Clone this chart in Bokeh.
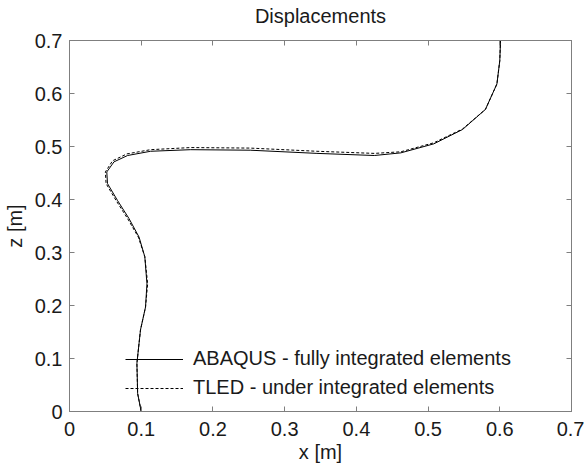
from bokeh.plotting import figure
from bokeh.models import Range1d, LinearAxis, FixedTicker, Legend, LegendItem, CustomJSTickFormatter
from bokeh.embed import file_html
from bokeh.resources import INLINE

abaqus_x = [0.100, 0.095, 0.094, 0.099, 0.106, 0.108, 0.105, 0.097, 0.083, 0.067, 0.053, 0.052,
            0.062, 0.081, 0.113, 0.169, 0.252, 0.345, 0.425, 0.462, 0.508, 0.548, 0.580, 0.596, 0.600, 0.601]
abaqus_z = [0.000, 0.034, 0.091, 0.154, 0.197, 0.241, 0.292, 0.329, 0.364, 0.398, 0.430, 0.452,
            0.471, 0.483, 0.491, 0.494, 0.493, 0.487, 0.483, 0.488, 0.505, 0.532, 0.570, 0.618, 0.662, 0.700]
tled_x = [0.100, 0.095, 0.094, 0.099, 0.106, 0.109, 0.105, 0.096, 0.081, 0.065, 0.051, 0.050,
          0.060, 0.080, 0.113, 0.169, 0.252, 0.345, 0.425, 0.462, 0.508, 0.548, 0.580, 0.596, 0.600, 0.601]
tled_z = [0.000, 0.034, 0.091, 0.154, 0.197, 0.241, 0.292, 0.329, 0.364, 0.398, 0.430, 0.452,
          0.473, 0.486, 0.494, 0.498, 0.497, 0.491, 0.487, 0.490, 0.507, 0.533, 0.570, 0.618, 0.662, 0.700]
tick_values = [0, 0.1, 0.2, 0.3, 0.4, 0.5, 0.6, 0.7]
tick_labels = ["0", "0.1", "0.2", "0.3", "0.4", "0.5", "0.6", "0.7"]
series_names = ["ABAQUS - fully integrated elements", "TLED - under integrated elements"]
title_text = "Displacements"

FONT = "Liberation Sans"
FS = "20px"
FRAME = "#7f7f7f"
TXT = "#1a1a1a"

p = figure(width=584, height=466, output_backend="svg", toolbar_location=None,
           x_range=Range1d(0, 0.7), y_range=Range1d(0, 0.7),
           min_border_left=69, min_border_right=13, min_border_top=40, min_border_bottom=55)
p.grid.visible = False
p.outline_line_color = FRAME
p.outline_line_width = 1
p.background_fill_color = "white"
p.border_fill_color = "white"

fmt = CustomJSTickFormatter(args=dict(vals=tick_values, labs=tick_labels), code="""
for (let i = 0; i < vals.length; i++) { if (Math.abs(tick - vals[i]) < 1e-9) return labs[i]; }
return '';
""")
blank = CustomJSTickFormatter(code="return '';")

def style_axis(ax, show_labels):
    ax.ticker = FixedTicker(ticks=tick_values)
    ax.formatter = fmt if show_labels else blank
    ax.major_tick_in = 5
    ax.major_tick_out = 0
    ax.minor_tick_line_color = None
    ax.axis_line_color = FRAME
    ax.major_tick_line_color = FRAME
    ax.major_label_text_font = FONT
    ax.major_label_text_font_size = FS if show_labels else "1px"
    ax.major_label_text_color = TXT
    ax.axis_label_text_font = FONT
    ax.axis_label_text_font_size = FS
    ax.axis_label_text_font_style = "normal"
    ax.axis_label_text_color = TXT

style_axis(p.xaxis[0], True)
style_axis(p.yaxis[0], True)
p.xaxis[0].axis_label = "x [m]"
p.yaxis[0].axis_label = "z [m]"
p.xaxis[0].major_label_standoff = 10
p.yaxis[0].major_label_standoff = 7
p.xaxis[0].axis_label_standoff = 2
p.yaxis[0].axis_label_standoff = 6

top_ax = LinearAxis()
right_ax = LinearAxis()
style_axis(top_ax, False)
style_axis(right_ax, False)
top_ax.major_label_standoff = 0
right_ax.major_label_standoff = 0
top_ax.axis_label = title_text
top_ax.axis_label_standoff = 14
p.add_layout(top_ax, "above")
p.add_layout(right_ax, "right")

r1 = p.line(abaqus_x, abaqus_z, line_color="black", line_width=1)
r2 = p.line(tled_x, tled_z, line_color="black", line_width=1, line_dash="3 2")

legend = Legend(items=[LegendItem(label=series_names[0], renderers=[r1]),
                       LegendItem(label=series_names[1], renderers=[r2])],
                location=(56, 12), orientation="vertical")
legend.border_line_alpha = 0
legend.background_fill_alpha = 0
legend.padding = 0
legend.margin = 0
legend.spacing = 6
legend.glyph_width = 58
legend.glyph_height = 20
legend.label_height = 20
legend.label_standoff = 10
legend.label_text_font = FONT
legend.label_text_font_size = FS
legend.label_text_color = TXT
p.add_layout(legend, "center")

open("out.html", "w").write(file_html(p, INLINE))
